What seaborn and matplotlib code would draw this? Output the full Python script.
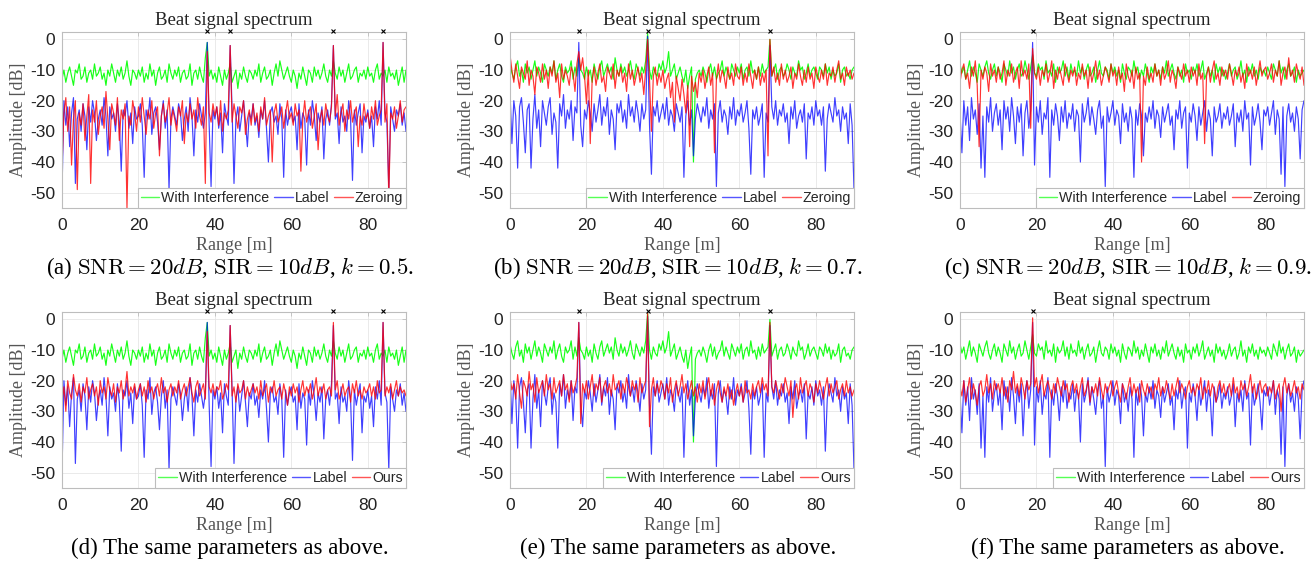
import numpy as np
import pandas as pd
import matplotlib
matplotlib.use("Agg")
import matplotlib.pyplot as plt
import seaborn as sns
from matplotlib.lines import Line2D

# ---------------- data (dB values every 0.5 m, 0..90 m) ----------------
green_a = [-13,-10,-14,-11,-9,-12,-15,-10,-11,-8,-13,-12,-9,-14,-11,-10,-13,-8,-12,-11,
           -9,-13,-11,-15,-10,-12,-8,-11,-14,-10,-12,-9,-13,-11,-7,-12,-15,-10,-11,-13,
           -10,-12,-9,-14,-11,-13,-8,-12,-10,-15,-11,-9,-13,-12,-10,-14,-8,-11,-13,-10,
           -12,-9,-14,-11,-10,-13,-12,-8,-15,-11,-10,-13,-9,-12,-14,-6,-1,-12,-10,-13,
           -11,-14,-9,-12,-15,-10,-13,-11,-8,-14,-12,-10,-16,-11,-13,-9,-12,-14,-10,-11,
           -13,-10,-12,-8,-14,-11,-9,-13,-12,-10,-15,-11,-8,-12,-7,-10,-13,-11,-9,-12,
           -14,-10,-12,-16,-11,-13,-9,-12,-15,-10,-11,-14,-9,-12,-10,-13,-11,-8,-12,-14,
           -10,-12,-7,-11,-13,-9,-12,-10,-14,-11,-8,-13,-12,-10,-9,-14,-11,-12,-10,-13,
           -9,-12,-11,-14,-10,-8,-13,-11,-12,-10,-14,-9,-12,-11,-13,-10,-15,-12,-9,-14,
           -10]
label_a = [-50,-20,-28,-22,-35,-24,-19,-47,-26,-23,-30,-21,-25,-36,-22,-27,-20,-24,-33,-26,
           -23,-28,-19,-25,-38,-22,-26,-24,-30,-21,-27,-43,-23,-25,-20,-29,-24,-34,-22,-26,
           -25,-21,-28,-45,-23,-26,-19,-31,-24,-22,-27,-36,-25,-20,-29,-23,-49,-26,-22,-25,
           -28,-21,-24,-33,-26,-22,-30,-19,-25,-38,-23,-27,-21,-25,-29,-24,-1,-28,-48,-23,
           -26,-22,-29,-24,-37,-21,-25,-28,-2,-23,-47,-26,-22,-30,-25,-20,-27,-35,-24,-26,
           -21,-28,-25,-32,-23,-26,-20,-29,-40,-24,-22,-27,-25,-31,-21,-26,-45,-23,-28,-24,
           -22,-27,-25,-36,-21,-29,-24,-26,-41,-23,-28,-20,-25,-33,-24,-27,-22,-39,-26,-23,
           -28,-21,-2,-26,-24,-34,-22,-27,-25,-30,-20,-26,-46,-23,-28,-24,-21,-37,-25,-27,
           -23,-29,-25,-35,-22,-26,-20,-28,-1,-24,-27,-49,-22,-26,-30,-23,-25,-21,-28,-24,
           -30]
zeroing_a = [-42,-24,-19,-30,-22,-41,-26,-20,-49,-24,-28,-21,-33,-25,-18,-47,-23,-27,-20,-31,
             -25,-22,-29,-17,-26,-36,-21,-24,-28,-19,-33,-23,-26,-21,-55,-25,-28,-20,-24,-30,
             -22,-27,-19,-25,-31,-23,-26,-20,-29,-24,-22,-38,-25,-21,-27,-24,-19,-28,-23,-26,
             -30,-22,-25,-20,-34,-24,-27,-21,-26,-23,-29,-19,-25,-28,-22,-47,-4,-24,-27,-21,
             -25,-22,-28,-20,-30,-24,-26,-23,-2,-27,-21,-25,-29,-22,-24,-20,-31,-26,-23,-28,
             -21,-27,-24,-30,-22,-26,-19,-28,-25,-23,-40,-24,-21,-27,-25,-22,-29,-24,-20,-26,
             -24,-28,-21,-25,-23,-43,-26,-20,-27,-24,-22,-29,-25,-21,-36,-26,-23,-28,-21,-25,
             -27,-22,-2,-25,-18,-28,-24,-21,-30,-23,-26,-20,-27,-24,-22,-35,-25,-28,-21,-26,
             -24,-29,-22,-26,-20,-28,-25,-23,-1,-27,-21,-52,-24,-26,-22,-29,-25,-20,-27,-23,
             -22]
ours_d = [-27,-22,-30,-20,-24,-26,-18,-23,-25,-21,-27,-22,-24,-19,-26,-23,-21,-25,-22,-28,
          -20,-24,-22,-26,-19,-23,-25,-21,-27,-22,-24,-20,-26,-23,-17,-25,-22,-24,-21,-26,
          -23,-21,-25,-22,-27,-20,-24,-22,-26,-23,-21,-25,-19,-24,-22,-27,-23,-21,-25,-22,
          -24,-20,-26,-23,-21,-25,-22,-19,-24,-27,-22,-20,-25,-23,-21,-26,-4,-22,-24,-21,
          -25,-22,-23,-20,-26,-24,-21,-23,-2,-25,-22,-27,-21,-24,-23,-20,-26,-22,-25,-23,
          -21,-24,-22,-26,-20,-25,-23,-21,-27,-22,-24,-20,-25,-23,-22,-26,-21,-24,-28,-22,
          -25,-21,-24,-22,-27,-23,-20,-25,-22,-24,-21,-26,-23,-19,-25,-22,-24,-21,-26,-23,
          -22,-25,-1,-23,-20,-26,-24,-21,-25,-23,-22,-27,-21,-24,-20,-25,-23,-26,-22,-24,
          -23,-21,-25,-22,-26,-20,-24,-23,-1,-25,-22,-24,-21,-26,-23,-20,-25,-22,-24,-23,
          -25]

green_b = [-8,-11,-13,-9,-7,-12,-10,-14,-8,-11,-9,-13,-10,-7,-12,-9,-11,-14,-8,-10,
           -12,-9,-11,-7,-13,-10,-8,-12,-14,-9,-11,-10,-7,-13,-9,-12,-6,-10,-11,-13,
           -9,-12,-10,-14,-8,-11,-13,-9,-7,-12,-10,-8,-11,-9,-13,-6,-10,-12,-8,-11,
           -9,-12,-10,-7,-11,-13,-8,-10,-12,-9,-11,-7,2,-10,-13,-9,-11,-12,-8,-10,
           -7,-11,-9,-4,-12,-10,-8,-13,-11,-9,-12,-14,-10,-16,-12,-9,-40,-13,-11,-10,
           -12,-9,-11,-14,-10,-8,-12,-9,-13,-11,-10,-7,-12,-9,-11,-13,-8,-10,-12,-9,
           -11,-8,-13,-10,-9,-12,-7,-11,-10,-13,-9,-12,-8,-11,-10,-9,0,-12,-10,-8,
           -13,-10,-9,-12,-11,-8,-10,-13,-9,-11,-12,-7,-10,-9,-13,-11,-8,-12,-10,-9,
           -11,-13,-9,-10,-12,-8,-11,-9,-13,-10,-12,-11,-8,-14,-10,-9,-12,-11,-13,-10,
           -9]
label_b = [-17,-34,-20,-25,-42,-22,-19,-27,-37,-23,-21,-42,-26,-18,-29,-23,-35,-20,-24,-28,
           -22,-19,-31,-24,-27,-42,-21,-25,-18,-29,-23,-26,-20,-33,-22,-24,-1,-28,-35,-23,
           -26,-20,-24,-30,-21,-27,-23,-18,-28,-22,-25,-19,-31,-23,-26,-36,-21,-24,-20,-27,
           -23,-29,-18,-25,-22,-27,-20,-24,-30,-21,-26,-23,1,-28,-44,-22,-25,-20,-27,-24,
           -21,-26,-19,-28,-23,-25,-30,-21,-24,-27,-22,-45,-25,-20,-28,-23,-38,-26,-21,-24,
           -27,-22,-25,-19,-29,-23,-26,-21,-48,-24,-20,-27,-23,-25,-31,-22,-26,-19,-28,-23,
           -25,-21,-27,-24,-20,-29,-44,-23,-26,-22,-28,-25,-21,-45,-24,-27,-2,-22,-26,-20,
           -28,-23,-25,-21,-27,-24,-34,-22,-26,-20,-29,-25,-23,-27,-21,-39,-24,-26,-22,-28,
           -20,-25,-23,-28,-22,-43,-26,-21,-24,-27,-19,-25,-23,-30,-22,-26,-24,-34,-21,-28,
           -49]
zeroing_b = [-5,-10,-14,-8,-12,-16,-9,-11,-13,-7,-15,-10,-12,-18,-9,-11,-14,-8,-13,-10,
             -16,-9,-12,-7,-14,-11,-19,-8,-13,-10,-12,-15,-9,-11,-17,-8,-4,-10,-6,-12,
             -21,-10,-34,-13,-9,-15,-11,-8,-14,-12,-17,-9,-11,-13,-8,-16,-10,-12,-9,-14,
             -11,-17,-8,-13,-10,-15,-12,-9,-14,-11,-18,-10,0,-13,-30,-12,-9,-15,-11,-14,
             -10,-16,-13,-11,-19,-14,-27,-12,-16,-20,-13,-18,-24,-15,-35,-12,-17,-14,-19,-11,
             -14,-10,-16,-12,-9,-15,-11,-37,-13,-8,-14,-10,-12,-16,-9,-13,-11,-15,-8,-12,
             -13,-9,-15,-11,-14,-8,-12,-16,-10,-13,-9,-15,-11,-14,-10,-38,0,-12,-9,-14,
             -11,-15,-8,-13,-10,-14,-12,-9,-16,-11,-13,-8,-12,-15,-10,-14,-9,-13,-11,-16,
             -9,-12,-14,-10,-13,-8,-15,-11,-12,-9,-14,-10,-7,-13,-11,-15,-9,-12,-10,-13,
             -11]
ours_e = [-19,-23,-21,-26,-18,-24,-29,-20,-22,-25,-17,-23,-21,-27,-19,-24,-22,-20,-25,-18,
          -23,-21,-26,-19,-24,-22,-20,-25,-18,-23,-21,-27,-20,-24,-22,-19,-1,-34,-21,-24,
          -20,-26,-22,-18,-25,-21,-23,-19,-27,-22,-20,-24,-21,-25,-18,-23,-22,-20,-26,-21,
          -24,-19,-22,-25,-20,-23,-21,-27,-19,-24,-22,-20,2,-35,-23,-19,-25,-21,-24,-20,
          -22,-26,-21,-24,-19,-27,-23,-20,-25,-22,-18,-24,-21,-26,-23,-20,-25,-22,-27,-21,
          -24,-20,-26,-22,-19,-25,-21,-28,-23,-20,-24,-27,-22,-25,-21,-26,-23,-28,-24,-21,
          -25,-22,-27,-20,-24,-23,-26,-21,-25,-22,-20,-24,-19,-23,-21,-25,-1,-22,-24,-20,
          -23,-26,-21,-24,-19,-22,-25,-20,-32,-23,-21,-26,-19,-24,-22,-20,-25,-21,-23,-27,
          -21,-24,-20,-23,-26,-22,-19,-25,-21,-24,-22,-20,-26,-23,-21,-25,-20,-24,-22,-25,
          -23]

green_c = [-8,-11,-9,-13,-10,-7,-12,-9,-11,-14,-8,-10,-12,-9,-7,-11,-13,-10,-8,-12,
           -9,-11,-14,-8,-10,-12,-7,-11,-9,-13,-10,-8,-12,-11,-7,-10,-13,-9,-5,-11,
           -12,-8,-10,-9,-13,-7,-11,-10,-12,-8,-14,-9,-11,-10,-7,-12,-9,-13,-8,-11,
           -10,-12,-7,-11,-9,-13,-10,-8,-12,-11,-9,-14,-10,-7,-11,-12,-9,-10,-13,-8,
           -11,-9,-12,-10,-14,-8,-11,-13,-9,-10,-12,-7,-11,-9,-13,-10,-12,-8,-11,-14,
           -9,-11,-8,-12,-10,-13,-9,-11,-7,-12,-10,-8,-11,-13,-9,-12,-10,-14,-8,-11,
           -10,-13,-9,-11,-8,-12,-10,-7,-13,-11,-9,-12,-10,-14,-8,-11,-9,-12,-10,-13,
           -11,-8,-12,-10,-9,-13,-11,-7,-12,-10,-14,-9,-11,-8,-12,-10,-13,-9,-11,-10,
           -12,-9,-11,-13,-8,-10,-12,-7,-11,-9,-13,-10,-8,-12,-11,-9,-14,-10,-12,-11,
           -10]
label_c = [-24,-37,-20,-28,-22,-33,-19,-26,-23,-31,-21,-42,-25,-45,-22,-27,-19,-30,-24,-21,
           -28,-23,-36,-20,-26,-22,-30,-19,-25,-34,-22,-27,-21,-38,-24,-20,-29,-23,-1,-41,
           -22,-27,-20,-31,-24,-26,-19,-45,-23,-28,-21,-25,-33,-22,-27,-20,-29,-24,-26,-21,
           -30,-23,-25,-40,-21,-27,-24,-19,-28,-22,-26,-31,-23,-20,-29,-25,-48,-22,-27,-24,
           -20,-28,-23,-25,-34,-21,-27,-24,-30,-22,-26,-45,-23,-28,-21,-25,-38,-24,-27,-22,
           -26,-20,-29,-23,-25,-32,-22,-27,-24,-21,-28,-25,-36,-23,-26,-20,-29,-24,-22,-42,
           -24,-27,-21,-25,-33,-22,-28,-24,-20,-30,-23,-26,-38,-22,-27,-25,-21,-29,-24,-26,
           -22,-28,-25,-21,-35,-24,-27,-23,-30,-20,-26,-24,-41,-22,-28,-25,-21,-27,-36,-23,
           -25,-22,-28,-24,-20,-31,-23,-26,-44,-22,-48,-25,-21,-27,-24,-30,-22,-26,-39,-23,
           -20]
zeroing_c = [-14,-10,-8,-13,-11,-16,-9,-12,-7,-15,-35,-10,-13,-9,-11,-17,-8,-12,-10,-14,
             -9,-13,-11,-7,-15,-10,-12,-8,-14,-11,-9,-16,-7,-12,-10,-13,-8,-29,-3,-11,
             -13,-9,-15,-10,-12,-8,-14,-11,-7,-16,-10,-13,-9,-12,-15,-8,-11,-14,-10,-12,
             -9,-15,-11,-13,-8,-12,-10,-16,-9,-14,-11,-7,-13,-10,-15,-12,-9,-11,-14,-8,
             -12,-10,-15,-9,-13,-11,-17,-8,-12,-14,-10,-16,-9,-13,-11,-40,-12,-15,-9,-13,
             -11,-14,-8,-12,-10,-15,-9,-13,-11,-7,-14,-10,-12,-16,-9,-11,-13,-8,-12,-10,
             -14,-9,-12,-10,-15,-8,-13,-11,-34,-12,-9,-14,-10,-7,-13,-11,-15,-9,-12,-10,
             -13,-8,-11,-15,-10,-12,-9,-14,-11,-16,-8,-12,-10,-13,-9,-15,-11,-7,-12,-10,
             -9,-13,-11,-8,-14,-10,-12,-7,-15,-11,-9,-13,-6,-12,-10,-14,-8,-11,-13,-9,
             -15]
ours_f = [-22,-25,-20,-27,-23,-19,-26,-21,-24,-28,-22,-20,-25,-23,-18,-24,-21,-26,-20,-23,
          -21,-24,-19,-25,-22,-27,-20,-23,-17,-24,-21,-25,-19,-22,-26,-20,-23,-21,0.5,-22,
          -19,-24,-21,-18,-25,-22,-20,-23,-26,-21,-24,-19,-22,-25,-20,-23,-21,-27,-22,-20,
          -24,-21,-26,-22,-19,-25,-23,-20,-27,-22,-24,-21,-25,-19,-23,-26,-21,-24,-22,-20,
          -25,-22,-20,-24,-27,-21,-23,-26,-22,-19,-25,-21,-24,-22,-27,-20,-23,-25,-21,-24,
          -22,-26,-21,-23,-19,-25,-22,-24,-20,-23,-26,-21,-25,-22,-19,-24,-21,-23,-26,-22,
          -20,-24,-22,-25,-21,-23,-19,-26,-22,-24,-20,-25,-21,-23,-27,-22,-20,-24,-21,-25,
          -23,-21,-25,-19,-24,-22,-26,-20,-23,-21,-25,-22,-18,-24,-21,-26,-23,-20,-24,-22,
          -21,-25,-22,-24,-20,-26,-23,-21,-30,-22,-19,-24,-21,-25,-23,-20,-24,-22,-26,-21,
          -23]

targets_a = [38, 44, 71, 84]
targets_b = [18, 36, 68]
targets_c = [19]

legend_names = ["With Interference", "Label"]
captions = [
    r"(a) $\mathrm{SNR}=20dB$, $\mathrm{SIR}=10dB$, $k=0.5$.",
    r"(b) $\mathrm{SNR}=20dB$, $\mathrm{SIR}=10dB$, $k=0.7$.",
    r"(c) $\mathrm{SNR}=20dB$, $\mathrm{SIR}=10dB$, $k=0.9$.",
    "(d) The same parameters as above.",
    "(e) The same parameters as above.",
    "(f) The same parameters as above.",
]
xticks = [0, 20, 40, 60, 80]
yticks = [0, -10, -20, -30, -40, -50]

# ---------------- figure ----------------
sns.set_theme(style="white")
plt.rcParams["font.family"] = ["Liberation Sans", "DejaVu Sans"]
plt.rcParams["mathtext.fontset"] = "cm"
plt.rcParams["axes.unicode_minus"] = False

W, H = 1314, 562
fig = plt.figure(figsize=(W / 100, H / 100), dpi=100)

panels = [
    (green_a, label_a, zeroing_a, "Zeroing", targets_a),
    (green_b, label_b, zeroing_b, "Zeroing", targets_b),
    (green_c, label_c, zeroing_c, "Zeroing", targets_c),
    (green_a, label_a, ours_d, "Ours", targets_a),
    (green_b, label_b, ours_e, "Ours", targets_b),
    (green_c, label_c, ours_f, "Ours", targets_c),
]
lefts = [62, 510, 960]
tops = [32, 312]
aw, ah = 344, 176
serif = ["Liberation Serif", "DejaVu Serif"]
YTOP = 2.4

for k, (g, lab, red, rname, tg) in enumerate(panels):
    r, c = divmod(k, 3)
    L, T = lefts[c], tops[r]
    ax = fig.add_axes([L / W, 1 - (T + ah) / H, aw / W, ah / H])
    n = len(g)
    x = np.linspace(0, 90, n)
    df = pd.DataFrame({"x": x, "g": g, "b": lab, "r": red})
    sns.lineplot(data=df, x="x", y="g", ax=ax, color="#00ff00", lw=0.85, alpha=0.9, estimator=None)
    sns.lineplot(data=df, x="x", y="b", ax=ax, color="#0000ff", lw=0.85, alpha=0.75, estimator=None)
    sns.lineplot(data=df, x="x", y="r", ax=ax, color="#ff0000", lw=0.85, alpha=0.8, estimator=None)
    ax.plot(tg, [YTOP + 0.4] * len(tg), "x", color="black", ms=3, mew=0.8, clip_on=False, zorder=5)

    ax.set_xlim(0, 90)
    ax.set_ylim(-55, YTOP)
    ax.set_xticks(xticks)
    ax.set_yticks(yticks)
    ax.grid(True, color="#e6e6e6", lw=0.6)
    for s in ax.spines.values():
        s.set_color("#bdbdbd")
        s.set_linewidth(0.8)
    ax.tick_params(direction="in", length=3, width=0.6, color="#bdbdbd",
                   labelsize=12.5, labelcolor="#222222", pad=5, top=True, right=True)
    ax.tick_params(axis="x", pad=7)
    ax.set_xlabel("Range [m]", family=serif, fontsize=13, color="#555555", labelpad=3)
    ax.set_ylabel("Amplitude [dB]", family=serif, fontsize=13, color="#555555", labelpad=2)
    ax.set_title("Beat signal spectrum", family=serif, fontsize=13.5, color="#222222", pad=5)

    handles = [Line2D([], [], color="#55ff55", lw=1.0),
               Line2D([], [], color="#5555ff", lw=1.0),
               Line2D([], [], color="#ff5555", lw=1.0)]
    leg = ax.legend(handles, legend_names + [rname], loc="lower right", ncol=3,
                    fontsize=10.2, frameon=True, fancybox=False, borderaxespad=0,
                    handlelength=1.3, handletextpad=0.15, columnspacing=0.35,
                    borderpad=0.2, framealpha=1)
    leg.get_frame().set_edgecolor("#bdbdbd")
    leg.get_frame().set_linewidth(0.8)

    fig.text((L + aw / 2 - 4) / W, 1 - (T + 236) / H, captions[k], family=serif,
             fontsize=16.5, color="black", ha="center", va="center")

fig.savefig("out.png", dpi=100)
